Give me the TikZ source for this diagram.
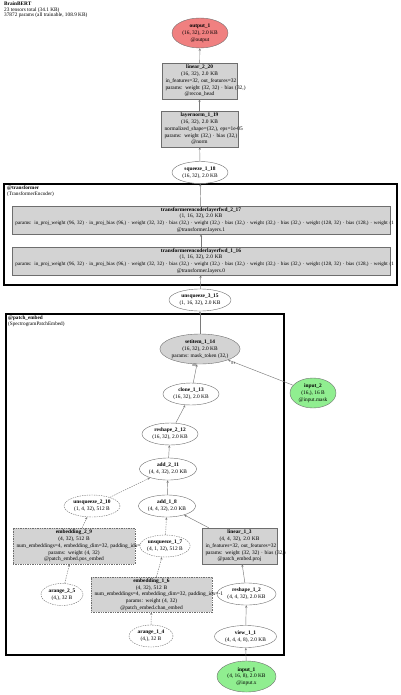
\documentclass[tikz,border=0pt]{standalone}
\usepackage{fontspec}
\setmainfont{Liberation Serif}
\usetikzlibrary{positioning,arrows.meta,shapes.geometric}
\definecolor{nodeline}{HTML}{6E6E6E}
\definecolor{opfill}{HTML}{D3D3D3}
\definecolor{outfill}{HTML}{F08080}
\definecolor{infill}{HTML}{90EE90}
\definecolor{edgeline}{HTML}{7A7A7A}
\newcommand{\nodefont}{\fontsize{5.4}{6.8}\selectfont}
\newcommand{\longfont}{\fontsize{5.1}{6.8}\selectfont}

\begin{document}
\begin{tikzpicture}[
  x=1pt, y=-1pt,
  font=\nodefont,
  op/.style={ellipse, draw=nodeline, line width=0.4pt, fill=white, inner sep=0pt, minimum width=56pt, minimum height=22pt, align=center},
  opbig/.style={op, minimum height=30pt},
  constop/.style={op, dash pattern=on 1.4pt off 1pt},
  mod/.style={rectangle, draw=nodeline, line width=0.4pt, fill=opfill, inner xsep=3.5pt, inner ysep=0pt, minimum height=36pt, align=center},
  constmod/.style={mod, dash pattern=on 1.4pt off 1pt},
  flow/.style={-{Stealth[length=2.6pt,width=2.2pt]}, line width=0.45pt, draw=edgeline},
  dflow/.style={flow, dash pattern=on 1.4pt off 1pt},
  cluster/.style={draw=black, line width=1.3pt},
  grp/.style={anchor=north west, inner sep=0pt, align=left, font=\fontsize{5.2}{5.8}\selectfont},
  lbl/.style={font=\fontsize{3.6}{4}\selectfont, inner sep=0.6pt}
]
  \useasboundingbox (0,0) rectangle (400,695);
  \clip (0,0) rectangle (400,695);

  % summary
  \node[anchor=north west, inner sep=0pt, align=left, font=\fontsize{5.3}{5.2}\selectfont] (summary) at (4,2)
    {\textbf{BrainBERT}\\23 tensors total (34.1 KB)\\37872 params (all trainable, 108.9 KB)};

  % module groups
  \draw[cluster] (4,184) rectangle (397,285);
  \node[grp] (grp_transformer) at (7,186) {\textbf{@transformer}\\(TransformerEncoder)};
  \draw[cluster] (6,314) rectangle (284,655);
  \node[grp] (grp_patch_embed) at (8,316) {\textbf{@patch\_embed}\\(SpectrogramPatchEmbed)};

  % head
  \node[opbig, fill=outfill] (output_1) at (200,33) {\textbf{output\_1}\\(16, 32), 2.0 KB\\@output};
  \node[mod, text width=68pt] (linear_2_20) at (199.5,81)
    {\textbf{linear\_2\_20}\\(16, 32), 2.0 KB\\\mbox{in\_features=32, out\_features=32}\\\mbox{params: weight (32, 32) · bias (32,)}\\@recon\_head};
  \node[mod, text width=70pt] (layernorm_1_19) at (199.5,129)
    {\textbf{layernorm\_1\_19}\\(16, 32), 2.0 KB\\\mbox{normalized\_shape=(32,), eps=1e-05}\\\mbox{params: weight (32,) · bias (32,)}\\@norm};
  \node[op] (squeeze_1_18) at (200,172.5) {\textbf{squeeze\_1\_18}\\(16, 32), 2.0 KB};

  % transformer
  \node[mod, text width=371pt, minimum height=28pt] (fwd_2_17) at (201,220)
    {\textbf{transformerencoderlayerfwd\_2\_17}\\(1, 16, 32), 2.0 KB\\\mbox{\longfont params: in\_proj\_weight (96, 32) · in\_proj\_bias (96,) · weight (32, 32) · bias (32,) · weight (32,) · bias (32,) · weight (32,) · bias (32,) · weight (128, 32) · bias (128,) · weight (1}\\@transformer.layers.1};
  \node[mod, text width=371pt, minimum height=28pt] (fwd_1_16) at (201,261)
    {\textbf{transformerencoderlayerfwd\_1\_16}\\(1, 16, 32), 2.0 KB\\\mbox{\longfont params: in\_proj\_weight (96, 32) · in\_proj\_bias (96,) · weight (32, 32) · bias (32,) · weight (32,) · bias (32,) · weight (32,) · bias (32,) · weight (128, 32) · bias (128,) · weight (1}\\@transformer.layers.0};
  \node[op, minimum width=62pt] (unsqueeze_3_15) at (200,300) {\textbf{unsqueeze\_3\_15}\\(1, 16, 32), 2.0 KB};

  % patch embedding
  \node[opbig, fill=opfill, minimum width=80pt] (setitem_1_14) at (200,349)
    {\textbf{setitem\_1\_14}\\(16, 32), 2.0 KB\\params: mask\_token (32,)};
  \node[opbig, fill=infill, minimum width=46pt] (input_2) at (313,393) {\textbf{input\_2}\\(16,), 16 B\\@input.mask};
  \node[op] (clone_1_13) at (191,394) {\textbf{clone\_1\_13}\\(16, 32), 2.0 KB};
  \node[op] (reshape_2_12) at (170,434) {\textbf{reshape\_2\_12}\\(16, 32), 2.0 KB};
  \node[op, minimum width=57pt] (add_2_11) at (168,469) {\textbf{add\_2\_11}\\(4, 4, 32), 2.0 KB};
  \node[op, minimum width=57pt] (add_1_8) at (167,506) {\textbf{add\_1\_8}\\(4, 4, 32), 2.0 KB};
  \node[constop, minimum width=56pt] (unsqueeze_2_10) at (92,506) {\textbf{unsqueeze\_2\_10}\\(1, 4, 32), 512 B};
  \node[constmod, text width=115pt] (embedding_2_9) at (74,546)
    {\textbf{embedding\_2\_9}\\(4, 32), 512 B\\\mbox{num\_embeddings=4, embedding\_dim=32, padding\_idx=-1}\\params: weight (4, 32)\\@patch\_embed.pos\_embed};
  \node[mod, text width=68pt] (linear_1_3) at (239.5,546)
    {\textbf{linear\_1\_3}\\(4, 4, 32), 2.0 KB\\\mbox{in\_features=32, out\_features=32}\\\mbox{params: weight (32, 32) · bias (32,)}\\@patch\_embed.proj};
  \node[constop, minimum width=49pt] (unsqueeze_1_7) at (165,546) {\textbf{unsqueeze\_1\_7}\\(4, 1, 32), 512 B};
  \node[op, minimum width=59pt] (reshape_1_2) at (246.5,594) {\textbf{reshape\_1\_2}\\(4, 4, 32), 2.0 KB};
  \node[constmod, text width=114pt, minimum height=35pt] (embedding_1_6) at (151.5,594.5)
    {\textbf{embedding\_1\_6}\\(4, 32), 512 B\\\mbox{num\_embeddings=4, embedding\_dim=32, padding\_idx=-1}\\params: weight (4, 32)\\@patch\_embed.chan\_embed};
  \node[constop, minimum width=42pt] (arange_2_5) at (62,594.5) {\textbf{arange\_2\_5}\\(4,), 32 B};
  \node[constop, minimum width=44pt] (arange_1_4) at (151,636) {\textbf{arange\_1\_4}\\(4,), 32 B};
  \node[op, minimum width=62pt] (view_1_1) at (245.5,636.5) {\textbf{view\_1\_1}\\(4, 4, 4, 8), 2.0 KB};
  \node[opbig, fill=infill, minimum width=59pt, minimum height=31pt] (input_1) at (246.5,676.5)
    {\textbf{input\_1}\\(4, 16, 8), 2.0 KB\\@input.x};

  % edges
  \draw[flow] (linear_2_20) -- (output_1);
  \draw[flow] (layernorm_1_19) -- (linear_2_20);
  \draw[flow] (squeeze_1_18) -- (layernorm_1_19);
  \draw[flow] (fwd_2_17) -- (squeeze_1_18);
  \draw[flow] (fwd_1_16) -- (fwd_2_17);
  \draw[flow] (unsqueeze_3_15) -- (fwd_1_16);
  \draw[flow] (setitem_1_14) -- (unsqueeze_3_15);
  \draw[flow] (clone_1_13) -- (setitem_1_14) node[lbl, pos=0.93, left] (lbl_arg0) {\#0};
  \draw[flow] (input_2) -- (setitem_1_14) node[lbl, pos=0.96, below right] (lbl_arg1) {\#1};
  \draw[flow] (reshape_2_12) -- (clone_1_13);
  \draw[flow] (add_2_11) -- (reshape_2_12);
  \draw[flow] (add_1_8) -- (add_2_11);
  \draw[dflow] (unsqueeze_2_10) -- (add_2_11);
  \draw[dflow] (embedding_2_9) -- (unsqueeze_2_10);
  \draw[dflow] (arange_2_5) -- (embedding_2_9);
  \draw[dflow] (unsqueeze_1_7) -- (add_1_8);
  \draw[flow] ([xshift=7pt]linear_1_3.north west) -- (add_1_8);
  \draw[dflow] (embedding_1_6) -- (unsqueeze_1_7);
  \draw[dflow] (arange_1_4) -- (embedding_1_6);
  \draw[flow] (reshape_1_2) -- (linear_1_3);
  \draw[flow] (view_1_1) -- (reshape_1_2);
  \draw[flow] (input_1) -- (view_1_1);
\end{tikzpicture}
\end{document}
